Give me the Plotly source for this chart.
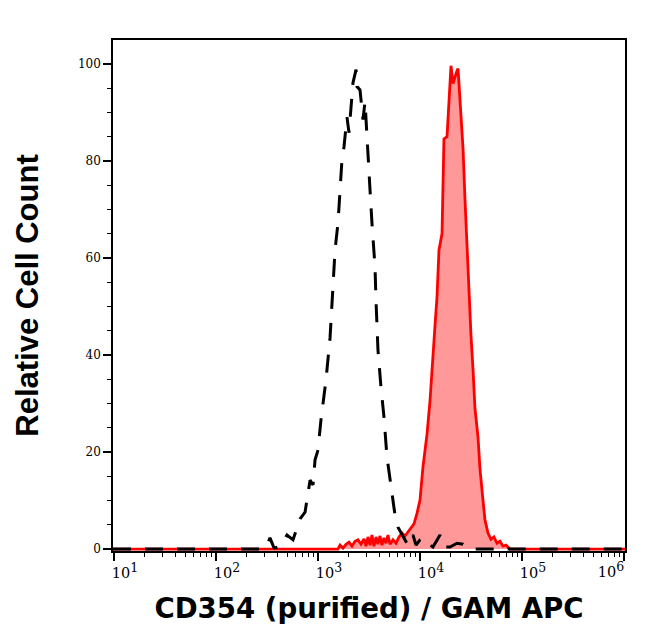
import plotly.graph_objects as go

# Control (isotype / secondary only) histogram: log10 fluorescence and relative count
ctrl_log = [0.99, 1.843, 2.431, 2.490, 2.529, 2.569, 2.627, 2.696, 2.755, 2.824, 2.873, 2.922,
            2.951, 2.971, 3.000, 3.029, 3.078, 3.118, 3.147, 3.167, 3.196, 3.216, 3.235,
            3.255, 3.284, 3.304, 3.333, 3.343, 3.373, 3.382, 3.412, 3.441, 3.461, 3.480,
            3.490, 3.510, 3.529, 3.539, 3.559, 3.569, 3.578, 3.588, 3.618, 3.647, 3.676,
            3.725, 3.755, 3.784, 3.833, 3.882, 3.931, 3.961, 4.000, 4.039, 4.078, 4.127,
            4.196, 4.235, 4.294, 4.363, 4.422, 4.490, 6.01]
ctrl_count = [0, 0, 0, 0.3, 2.3, 0.2, 0.5, 2.9, 1.9, 6.2, 7.6, 14.2,
              13.2, 18.4, 20.4, 26.6, 34.8, 43.5, 53.4, 61.6, 67.2, 74.0, 80.2,
              82.9, 89.0, 85.8, 93.2, 96.1, 98.8, 95.3, 94.6, 88.5, 92.2, 84.3,
              80.2, 74.0, 67.2, 63.7, 58.1, 51.0, 47.0, 41.0, 33.2, 27.2, 19.0,
              11.8, 7.0, 4.5, 2.5, 0.8, 2.9, 0.8, 1.9, 2.3, 1.2, 0.4,
              2.9, 0.4, 0.4, 1.2, 1.0, 0, 0]

# CD354 stained histogram
cd354_log = [0.99, 3.196, 3.216, 3.245, 3.275, 3.304, 3.333, 3.363, 3.392, 3.422, 3.451,
             3.471, 3.490, 3.510, 3.529, 3.549, 3.569, 3.588, 3.608, 3.627, 3.647, 3.667,
             3.686, 3.706, 3.735, 3.765, 3.794, 3.824, 3.853, 3.882, 3.912, 3.941, 3.971,
             4.000, 4.029, 4.069, 4.098, 4.127, 4.147, 4.167, 4.186, 4.216, 4.235, 4.265,
             4.284, 4.304, 4.324, 4.343, 4.363, 4.373, 4.392, 4.422, 4.441, 4.461, 4.480,
             4.500, 4.520, 4.539, 4.569, 4.588, 4.618, 4.637, 4.667, 4.696, 4.725, 4.755,
             4.784, 4.814, 4.843, 4.882, 6.01]
cd354_count = [0, 0, 0.8, 0.2, 1.0, 1.4, 0.6, 1.6, 1.9, 1.0, 2.1,
               0.6, 2.5, 0.8, 2.9, 0.6, 2.5, 1.0, 2.7, 0.8, 2.3, 1.2,
               2.9, 1.0, 1.9, 1.2, 2.5, 3.3, 2.7, 3.5, 4.4, 5.2, 7.4,
               10.1, 16.9, 23.7, 30.5, 40.8, 46.0, 52.0, 61.6, 65.0, 84.5, 85.0,
               92.0, 99.6, 95.9, 97.5, 98.6, 99.0, 92.5, 82.5, 72.2, 61.9, 51.5,
               44.0, 37.0, 29.0, 23.0, 16.5, 10.0, 6.0, 3.3, 2.0, 2.5, 1.2,
               1.6, 0.6, 0.8, 0, 0]

decades = [1, 2, 3, 4, 5, 6]
y_ticks = [0, 20, 40, 60, 80, 100]

x_cd354 = [10 ** v for v in cd354_log]
x_ctrl = [10 ** v for v in ctrl_log]

major_vals = [10 ** d for d in decades]
major_text = ["10<sup><span style='font-size:12.5px'>%d</span></sup>" % d for d in decades]
minor_vals = [k * 10 ** d for d in decades[:-1] for k in range(2, 10)]

fig = go.Figure()
fig.add_trace(go.Scatter(
    x=x_cd354, y=cd354_count, mode="lines",
    line=dict(color="#ff0000", width=2.8),
    fill="tozeroy", fillcolor="rgba(255,0,0,0.4)",
    xaxis="x", yaxis="y", hoverinfo="skip", showlegend=False))
fig.add_trace(go.Scatter(
    x=x_ctrl, y=ctrl_count, mode="lines",
    line=dict(color="black", width=3, dash="18px,14px"),
    xaxis="x2", yaxis="y", hoverinfo="skip", showlegend=False))

tickfont = dict(family="DejaVu Serif", size=14.5, color="black")
xrange = [0.99, 6.01]

fig.update_layout(
    width=646, height=641,
    margin=dict(l=105, r=29, t=32, b=98),
    paper_bgcolor="white", plot_bgcolor="white",
    xaxis=dict(
        type="log", range=xrange, automargin=False,
        tickmode="array", tickvals=major_vals,
        ticktext=major_text[:-1] + [""],
        ticks="outside", ticklen=8, tickwidth=1.5, tickcolor="black",
        ticklabelshift=11,
        minor=dict(tickmode="array", tickvals=minor_vals, ticks="outside",
                   ticklen=4, tickwidth=1.2, tickcolor="black"),
        showline=True, linecolor="black", linewidth=1.5, mirror=True,
        showgrid=False, zeroline=False,
        tickfont=tickfont,
        title=dict(text="CD354 (purified) / GAM APC",
                   font=dict(family="DejaVu Sans", size=27.6, color="black", weight="bold"),
                   standoff=19),
    ),
    # last decade label (10^6) sits left of its tick
    xaxis2=dict(
        type="log", range=xrange, overlaying="x", anchor="y", side="bottom",
        automargin=False,
        tickmode="array", tickvals=[major_vals[-1]], ticktext=[major_text[-1]],
        ticks="outside", ticklen=8, tickcolor="rgba(0,0,0,0)", ticklabelshift=-13,
        showline=False, showgrid=False, zeroline=False,
        tickfont=tickfont,
    ),
    yaxis=dict(
        range=[-0.4, 104.9], automargin=False,
        tickmode="array", tickvals=y_ticks,
        ticks="outside", ticklen=8, tickwidth=1.5, tickcolor="black",
        minor=dict(dtick=5, ticks="outside", ticklen=4, tickwidth=1.2, tickcolor="black"),
        showline=True, linecolor="black", linewidth=1.5, mirror=True,
        showgrid=False, zeroline=False,
        tickfont=dict(family="DejaVu Serif", size=12, color="black"),
        title=dict(text="Relative Cell Count",
                   font=dict(family="Liberation Sans", size=31, color="black", weight="bold"),
                   standoff=30),
    ),
)

fig.write_html("out.html")
